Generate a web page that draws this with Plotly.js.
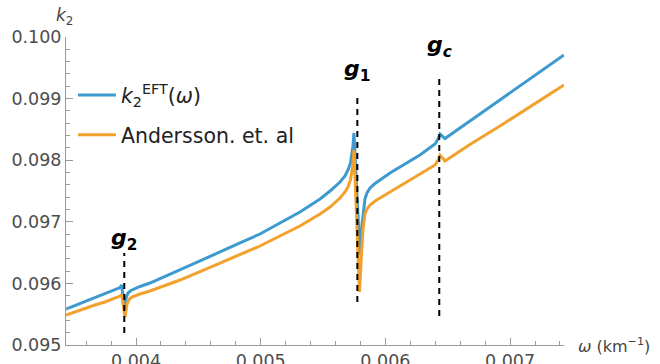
<!DOCTYPE html>
<html>
<head>
<meta charset="utf-8">
<script src="https://cdn.plot.ly/plotly-3.0.1.min.js"></script>
<style>html,body{margin:0;padding:0;background:#fff;}#chart{width:660px;height:364px;}</style>
</head>
<body>
<div id="chart"></div>
<script>
// ω (km^-1) and k2 values
const omegaEFT = [0.003439,0.003551,0.003671,0.003751,0.003808,0.003848,0.003872,0.003885,0.003906,0.003920,0.003936,0.003960,0.003992,0.004032,0.004112,0.004353,0.004674,0.004834,0.004994,0.005315,0.005476,0.005556,0.005636,0.005676,0.005700,0.005720,0.005732,0.005740,0.005748,0.005796,0.005812,0.005824,0.005836,0.005852,0.005877,0.005917,0.005957,0.006037,0.006117,0.006277,0.006398,0.006422,0.006438,0.006478,0.006678,0.006919,0.007160,0.007432];
const k2EFT = [0.095584,0.095674,0.095771,0.095828,0.095869,0.095901,0.095933,0.095974,0.095617,0.095763,0.095844,0.095885,0.095917,0.095950,0.096006,0.096218,0.096510,0.096656,0.096802,0.097159,0.097370,0.097500,0.097646,0.097744,0.097841,0.097955,0.098084,0.098231,0.098442,0.096461,0.096948,0.097224,0.097370,0.097468,0.097549,0.097622,0.097679,0.097792,0.097890,0.098084,0.098263,0.098344,0.098425,0.098352,0.098636,0.098977,0.099318,0.099708];

const omegaAnd = [0.003439,0.003551,0.003671,0.003751,0.003808,0.003848,0.003872,0.003885,0.003912,0.003928,0.003944,0.003968,0.004000,0.004032,0.004112,0.004353,0.004674,0.004834,0.004994,0.005315,0.005476,0.005556,0.005636,0.005676,0.005700,0.005720,0.005732,0.005740,0.005748,0.005792,0.005808,0.005820,0.005836,0.005852,0.005877,0.005917,0.005957,0.006037,0.006117,0.006277,0.006398,0.006422,0.006438,0.006478,0.006678,0.006919,0.007160,0.007432];
const k2And = [0.095487,0.095568,0.095649,0.095698,0.095739,0.095771,0.095795,0.095820,0.095455,0.095666,0.095739,0.095779,0.095804,0.095828,0.095877,0.096055,0.096331,0.096469,0.096607,0.096932,0.097127,0.097240,0.097386,0.097484,0.097565,0.097679,0.097808,0.097938,0.098166,0.095860,0.096461,0.096867,0.097127,0.097208,0.097273,0.097338,0.097386,0.097484,0.097581,0.097776,0.097922,0.098003,0.098084,0.097987,0.098255,0.098555,0.098864,0.099221];

const seriesNames = ['<i>k</i><sub>2</sub><sup>EFT</sup>(<i>ω</i>)', 'Andersson. et. al'];
const modeLabels = ['<b><i>g</i><sub>2</sub></b>', '<b><i>g</i><sub>1</sub></b>', '<b><i>g</i><sub><i>c</i></sub></b>'];
const modeOmega = [0.003906, 0.005775, 0.006432];
const xTickVals = [0.004, 0.005, 0.006, 0.007];
const yTickVals = [0.095, 0.096, 0.097, 0.098, 0.099, 0.100];

const blue = '#3d9ad0', orange = '#f2a12c';
const FONT = 'DejaVu Sans, sans-serif';

const traces = [
  {x: omegaEFT, y: k2EFT, mode: 'lines', name: seriesNames[0], line: {color: blue, width: 3}, legendgroup: 'a'},
  {x: omegaAnd, y: k2And, mode: 'lines', name: seriesNames[1], line: {color: orange, width: 3}, legendgroup: 'b'}
];

// dashed marker lines: [ymin, ymax] in data units
const lineSpans = [[0.095195, 0.096494], [0.095698, 0.099010], [0.095471, 0.099383]];
const labelY = [0.096710, 0.099464, 0.099838];
const shapes = modeOmega.map((w, i) => ({
  type: 'line', xref: 'x', yref: 'y', x0: w, x1: w, y0: lineSpans[i][0], y1: lineSpans[i][1],
  line: {color: '#000', width: 2, dash: '6px,5px'}
}));

const annotations = modeOmega.map((w, i) => ({
  x: w, y: labelY[i], xref: 'x', yref: 'y', text: modeLabels[i], showarrow: false,
  font: {family: FONT, size: 22, color: '#000'}, xanchor: 'center', yanchor: 'middle'
}));
annotations.push({xref: 'paper', yref: 'paper', x: -0.004, y: 1.068, xanchor: 'center', yanchor: 'middle',
  text: '<i>k</i><sub>2</sub>', showarrow: false, font: {family: FONT, size: 17, color: '#444'}});
annotations.push({xref: 'paper', yref: 'paper', x: 1.025, y: 0.0, xanchor: 'left', yanchor: 'middle',
  text: '<i>ω</i> (km<sup>−1</sup>)', showarrow: false, font: {family: FONT, size: 16, color: '#444'}});

const axisCommon = {
  showline: true, linecolor: '#9a9a9a', linewidth: 1, mirror: false,
  ticks: 'inside', ticklen: 7, tickcolor: '#9a9a9a', tickwidth: 1,
  showgrid: false, zeroline: false,
  tickfont: {family: FONT, size: 17.5, color: '#4d4d4d'},
  tickformat: '.3f'
};

const layout = {
  width: 660, height: 364,
  margin: {l: 66, r: 96, t: 37, b: 19},
  paper_bgcolor: '#fff', plot_bgcolor: '#fff',
  font: {family: FONT},
  showlegend: true,
  legend: {x: 0.014, y: 0.876, xanchor: 'left', yanchor: 'top', bgcolor: 'rgba(0,0,0,0)',
    font: {family: FONT, size: 20.5, color: '#222'}, itemwidth: 38, tracegroupgap: 10},
  xaxis: Object.assign({}, axisCommon, {
    range: [0.0034386, 0.0074323], tickvals: xTickVals,
    minor: {ticks: 'inside', ticklen: 4, tickcolor: '#9a9a9a', dtick: 0.0002, tick0: 0, showgrid: false}
  }),
  yaxis: Object.assign({}, axisCommon, {
    range: [0.095, 0.100], tickvals: yTickVals,
    minor: {ticks: 'inside', ticklen: 4, tickcolor: '#9a9a9a', dtick: 0.0002, tick0: 0, showgrid: false}
  }),
  shapes: shapes,
  annotations: annotations
};

Plotly.newPlot('chart', traces, layout, {staticPlot: true, displayModeBar: false});
</script>
</body>
</html>
